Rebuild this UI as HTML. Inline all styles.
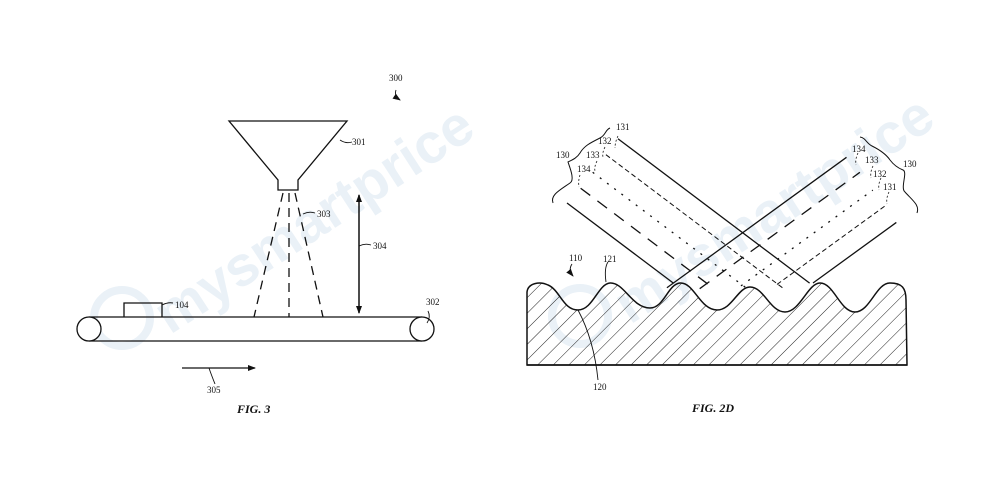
<!DOCTYPE html>
<html><head><meta charset="utf-8"><style>
html,body{margin:0;padding:0;background:#fff;}
svg{display:block;font-family:"Liberation Serif",serif;}
</style></head><body>
<svg width="1000" height="498" viewBox="0 0 1000 498" xmlns="http://www.w3.org/2000/svg">
<defs>
<pattern id="h" width="11" height="11" patternUnits="userSpaceOnUse" patternTransform="rotate(45)">
<line x1="0" y1="0" x2="0" y2="11" stroke="#222" stroke-width="1"/>
</pattern>
<marker id="ah" markerWidth="8" markerHeight="8" refX="7" refY="4" orient="auto" markerUnits="userSpaceOnUse">
<path d="M0,1 L8,4 L0,7 z" fill="#111"/></marker>
</defs>
<!-- watermarks -->
<g fill="#eaf1f7" font-family="Liberation Sans,sans-serif" font-weight="bold" font-size="56">
<text x="0" y="0" transform="translate(170,335) rotate(-33)">mysmartprice</text>
<text x="0" y="0" transform="translate(630,325) rotate(-33)">mysmartprice</text>
</g>
<g fill="none" stroke="#eaf1f7" stroke-width="8">
<circle cx="122" cy="318" r="28"/><circle cx="580" cy="316" r="28"/>
</g>

<g stroke="#111" stroke-width="1.3" fill="none">
<!-- FIG 3 -->
<path d="M229,121 L347,121 L298,180 L298,190 L278,190 L278,180 Z" fill="#fff"/>
<g stroke-dasharray="9,6">
<line x1="283" y1="193" x2="254" y2="317"/>
<line x1="289" y1="193" x2="289" y2="317"/>
<line x1="295" y1="193" x2="323" y2="317"/>
</g>
<line x1="89" y1="317" x2="422" y2="317"/>
<line x1="89" y1="341" x2="422" y2="341"/>
<circle cx="89" cy="329" r="12" fill="#fff"/>
<circle cx="422" cy="329" r="12" fill="#fff"/>
<path d="M124,317 L124,303 L162,303 L162,317"/>
<line x1="359" y1="195" x2="359" y2="313" marker-end="url(#ah)"/>
<line x1="359" y1="313" x2="359" y2="195" marker-end="url(#ah)"/>
<line x1="182" y1="368" x2="255" y2="368" marker-end="url(#ah)"/>
<!-- leaders -->
<path d="M340,140 q6,4 12,2" stroke-width="0.9"/>
<path d="M303,214 q6,-3 12,-1" stroke-width="0.9"/>
<path d="M359,246 q6,-3 12,-1" stroke-width="0.9"/>
<path d="M162,305 q6,-3 11,-2" stroke-width="0.9"/>
<path d="M427,323 q4,-6 1,-12" stroke-width="0.9"/>
<path d="M215,384 q-4,-10 -6,-16" stroke-width="0.9"/>
<path d="M396,90 q-2,6 4,10" stroke-width="0.9" marker-end="url(#ah)"/>

<!-- FIG 2D beams -->
<g transform="translate(567,203) rotate(37)">
<line x1="0" y1="0" x2="133" y2="0"/>
<line x1="2" y1="-20" x2="170" y2="-20" stroke-dasharray="12,9"/>
<line x1="2" y1="-40" x2="200" y2="-40" stroke-dasharray="2,7"/>
<line x1="2" y1="-62" x2="225" y2="-62" stroke-dasharray="5,3" stroke-width="1"/>
<line x1="2" y1="-82" x2="242" y2="-82"/>
</g>
<g transform="translate(813,283) rotate(-36)">
<line x1="0" y1="0" x2="103" y2="0"/>
<line x1="-30" y1="-20" x2="103" y2="-20" stroke-dasharray="5,3" stroke-width="1"/>
<line x1="-60" y1="-40" x2="103" y2="-40" stroke-dasharray="2,7"/>
<line x1="-95" y1="-62" x2="103" y2="-62" stroke-dasharray="12,9"/>
<line x1="-121" y1="-82" x2="101" y2="-82"/>
</g>
<!-- ground -->
<path d="M527,365 L527,292 C528,283 540,281 548,285 C560,290 563,310 578,310 C593,310 598,284 610,283 C624,282 632,308 650,308 C664,308 668,284 680,283 C694,282 700,310 717,310 C732,310 738,287 750,287 C764,287 770,312 785,312 C800,312 808,283 820,283 C834,283 840,312 855,312 C870,312 876,283 890,283 C902,283 906,288 906,300 L907,365 Z" fill="url(#h)" stroke-width="1.5"/>
<line x1="527" y1="365" x2="907" y2="365" stroke-width="1.6"/>
<!-- brackets -->
<path d="M553,203 C550,195 560,190 570,183 C575,180 570,168 568,162 C572,160 577,158 580,153 C584,146 590,143 600,138 C606,135 605,130 610,128" stroke-width="1"/>
<path d="M917,213 C920,205 912,200 905,192 C900,188 908,172 903,170 C898,168 893,164 890,160 C886,154 880,150 872,146 C866,143 866,138 860,137" stroke-width="1"/>
<!-- leaders 2D -->
<path d="M618,136 q-3,6 -3,12" stroke-width="0.8" stroke-dasharray="2,2"/>
<path d="M605,147 q-3,6 -2,10" stroke-width="0.8" stroke-dasharray="2,2"/>
<path d="M597,161 q-3,6 -2,10" stroke-width="0.8" stroke-dasharray="2,2"/>
<path d="M580,175 q-2,6 -1,12" stroke-width="0.8" stroke-dasharray="2,2"/>
<path d="M858,153 q-3,6 -2,12" stroke-width="0.8" stroke-dasharray="2,2"/>
<path d="M873,166 q-3,6 -2,12" stroke-width="0.8" stroke-dasharray="2,2"/>
<path d="M881,178 q-3,6 -2,12" stroke-width="0.8" stroke-dasharray="2,2"/>
<path d="M889,192 q-3,6 -2,12" stroke-width="0.8" stroke-dasharray="2,2"/>
<path d="M572,264 q-4,6 1,12" stroke-width="0.9" marker-end="url(#ah)"/>
<path d="M608,262 q-4,6 -2,20" stroke-width="0.9"/>
<path d="M598,380 q-4,-40 -20,-70" stroke-width="0.9"/>
</g>

<g font-size="9" fill="#111">
<text x="389" y="81">300</text>
<text x="352" y="145">301</text>
<text x="317" y="217">303</text>
<text x="373" y="249">304</text>
<text x="175" y="308">104</text>
<text x="426" y="305">302</text>
<text x="207" y="393">305</text>
<text x="616" y="130">131</text>
<text x="598" y="144">132</text>
<text x="586" y="158">133</text>
<text x="577" y="172">134</text>
<text x="556" y="158">130</text>
<text x="852" y="152">134</text>
<text x="865" y="163">133</text>
<text x="873" y="177">132</text>
<text x="883" y="190">131</text>
<text x="903" y="167">130</text>
<text x="569" y="261">110</text>
<text x="603" y="262">121</text>
<text x="593" y="390">120</text>
</g>
<g font-size="12" font-weight="bold" font-style="italic" fill="#111">
<text x="237" y="413">FIG. 3</text>
<text x="692" y="412">FIG. 2D</text>
</g>
</svg>
</body></html>
